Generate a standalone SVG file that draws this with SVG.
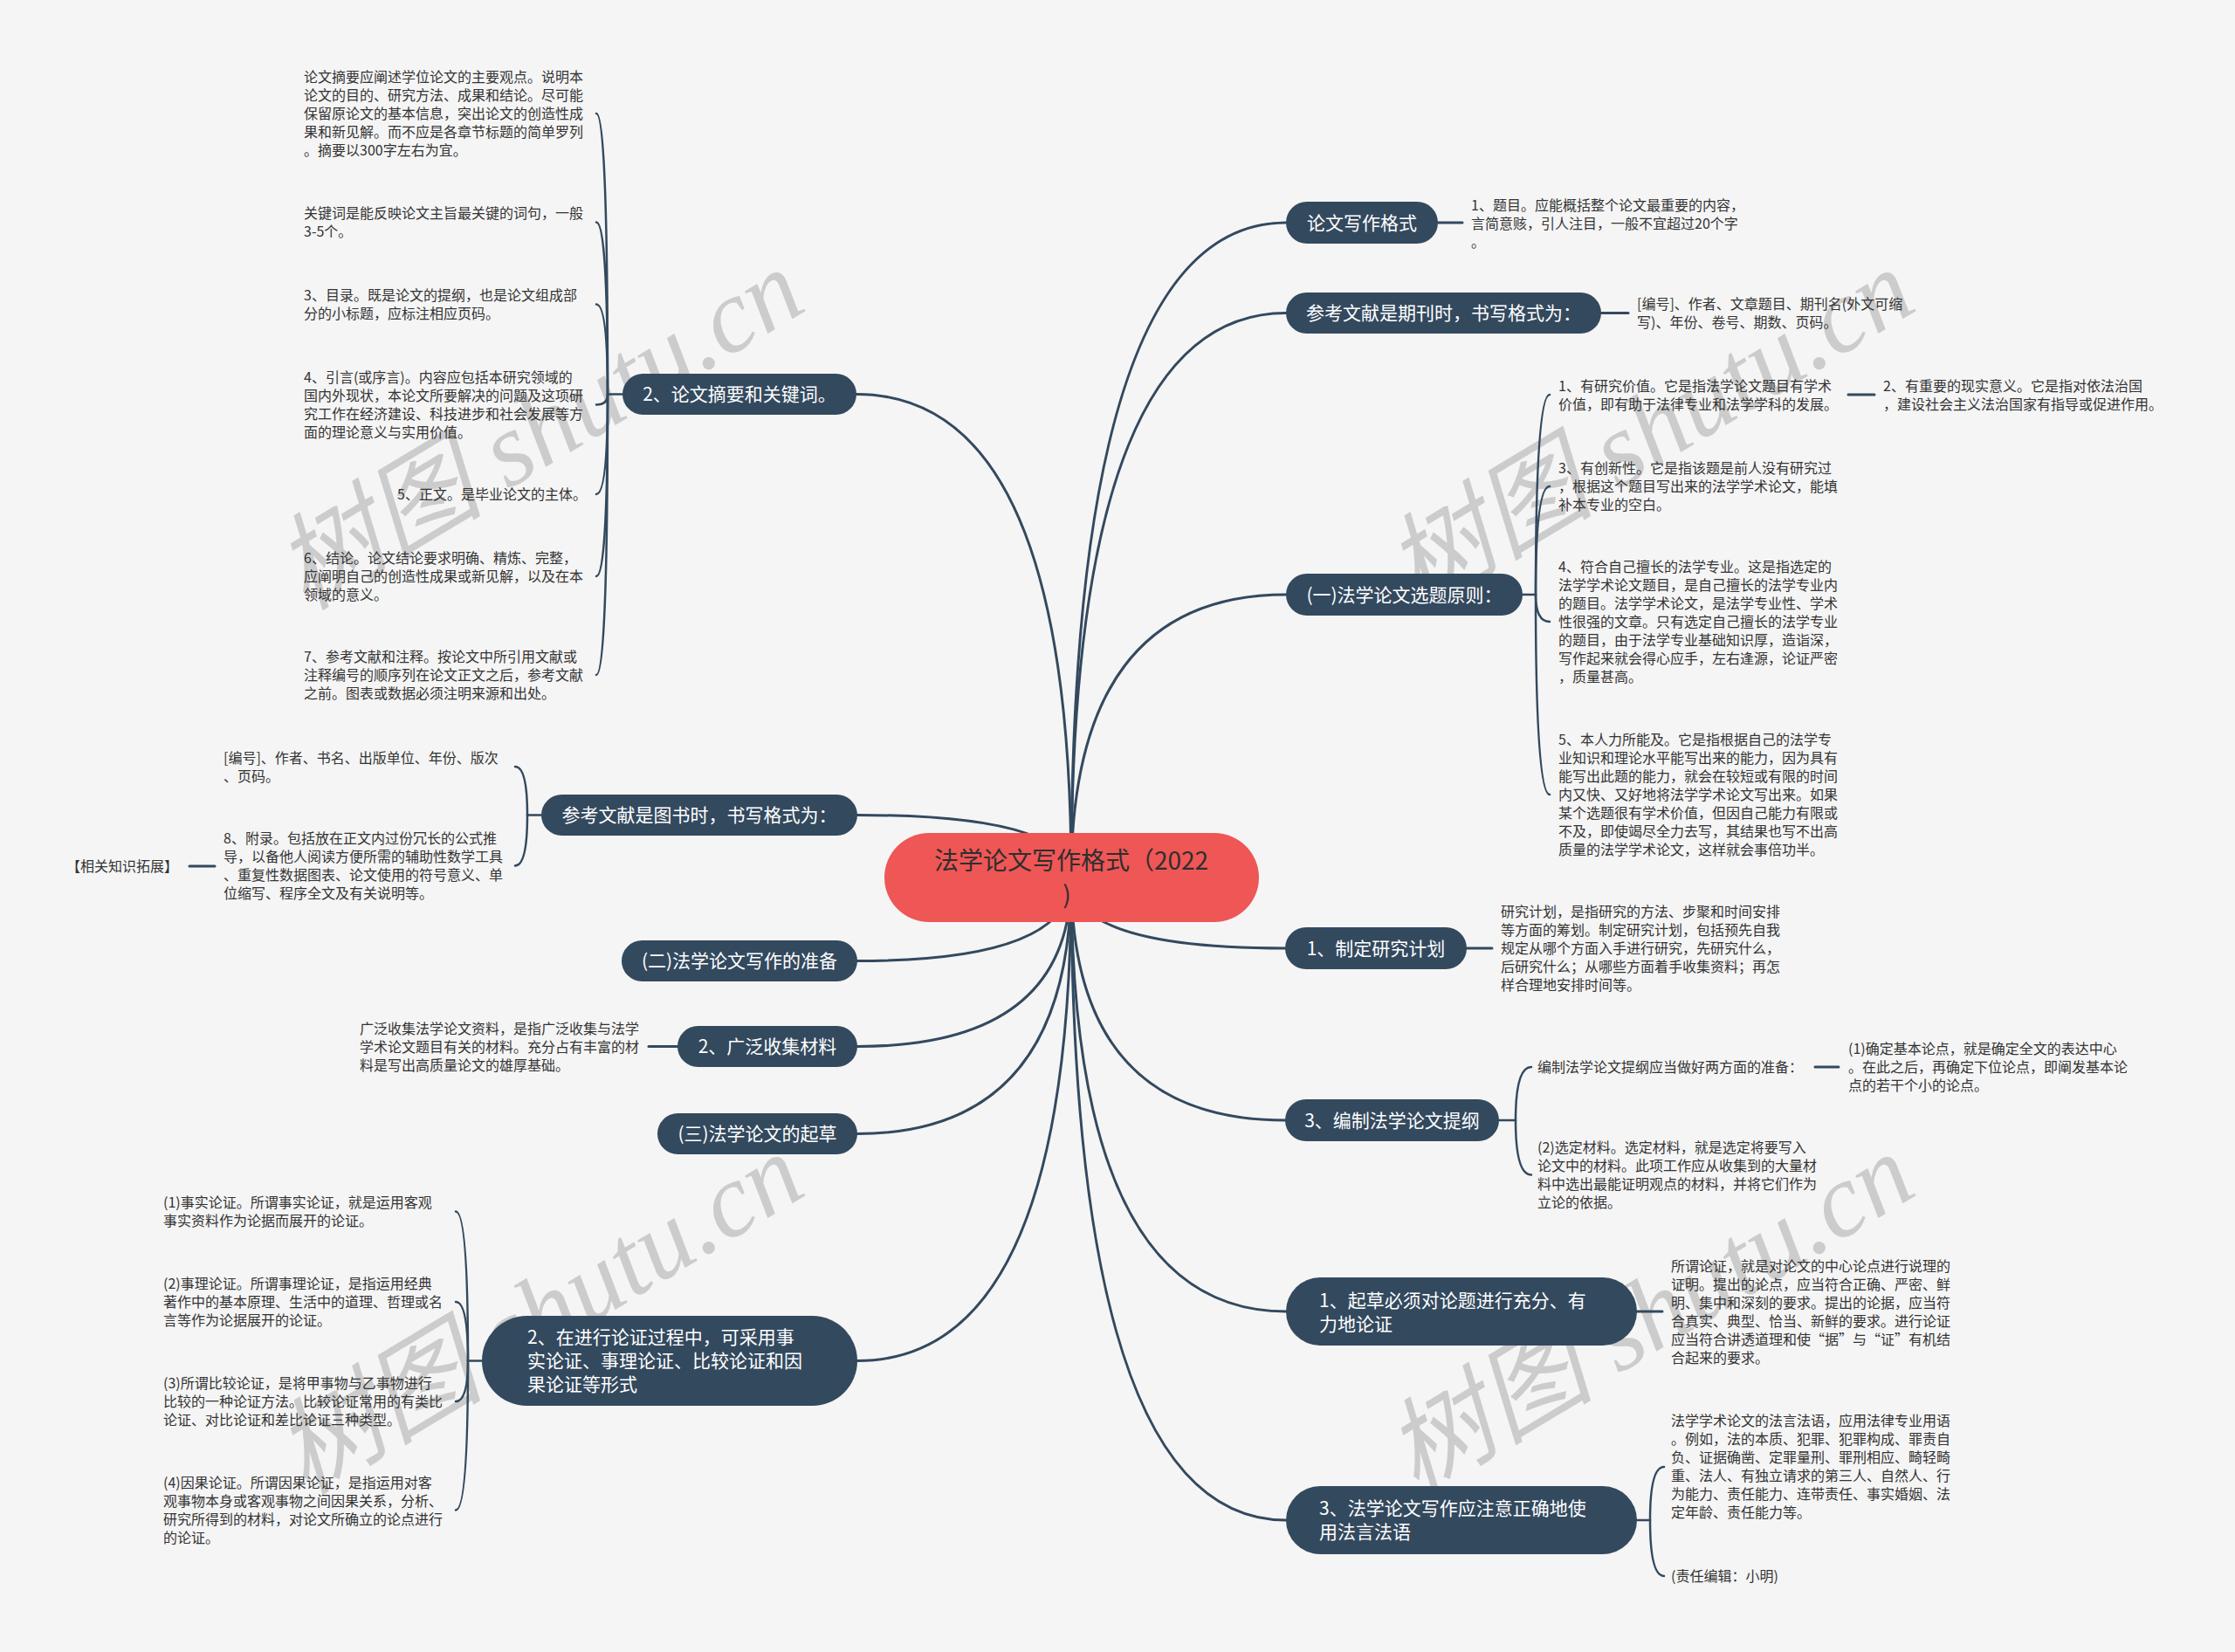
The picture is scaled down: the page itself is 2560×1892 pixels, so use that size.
<svg xmlns="http://www.w3.org/2000/svg" width="2560" height="1892" viewBox="0 0 2560 1892">
<style>
.bg{fill:#f5f5f5}
.wm{fill:#cccccc;font-family:"Liberation Serif","Noto Sans CJK SC",serif;font-style:italic;font-size:120px}
.ln{fill:none;stroke:#33495e;stroke-width:3;stroke-linecap:round}
.br{fill:none;stroke:#33495e;stroke-width:2.5;stroke-linecap:round}
.nd{fill:#33495e}
.nt{fill:#ffffff;font-family:"Noto Sans CJK SC","Noto Sans",sans-serif;font-size:21px}
.mid{text-anchor:middle}
.lf{fill:#333333;font-family:"Noto Sans CJK SC","Noto Sans",sans-serif;font-size:16px}
.ct{fill:#2e2e2e;font-family:"Noto Sans CJK SC","Noto Sans",sans-serif;font-size:28px;text-anchor:middle}
</style>
<rect class="bg" x="0" y="0" width="2560" height="1892"/>
<g id="watermarks">
<text class="wm" transform="translate(350,700) rotate(-31)">树图 shutu.cn</text>
<text class="wm" transform="translate(1622,700) rotate(-31)">树图 shutu.cn</text>
<text class="wm" transform="translate(350,1713) rotate(-31)">树图 shutu.cn</text>
<text class="wm" transform="translate(1622,1713) rotate(-31)">树图 shutu.cn</text>
</g>
<g id="connectors">
<path class="ln" d="M1227 1005 Q1227 255 1473 255"/>
<path class="ln" d="M1227 1005 Q1227 358.5 1473 358.5"/>
<path class="ln" d="M1227 1005 Q1227 681 1473 681"/>
<path class="ln" d="M1227 1005 Q1227 1086 1472 1086"/>
<path class="ln" d="M1227 1005 Q1227 1283 1472 1283"/>
<path class="ln" d="M1227 1005 Q1227 1502 1473 1502"/>
<path class="ln" d="M1227 1005 Q1227 1741 1473 1741"/>
<path class="ln" d="M1227 1005 Q1227 451.5 981 451.5"/>
<path class="ln" d="M1227 1005 Q1227 933.5 982 933.5"/>
<path class="ln" d="M1227 1005 Q1227 1100.5 982 1100.5"/>
<path class="ln" d="M1227 1005 Q1227 1198.5 982 1198.5"/>
<path class="ln" d="M1227 1005 Q1227 1298.5 982 1298.5"/>
<path class="ln" d="M1227 1005 Q1227 1558.5 982 1558.5"/>
<path class="ln" d="M1647 255 H1675"/>
<path class="ln" d="M1834 358.5 H1865"/>
<path class="ln" d="M2117 452 H2147"/>
<path class="ln" d="M1680 1086 H1709"/>
<path class="ln" d="M2079 1222 H2106"/>
<path class="ln" d="M1875 1502 H1904"/>
<path class="ln" d="M776 1198.5 H743"/>
<path class="ln" d="M246 992 H217"/>
<path class="br" d="M1744 681 H1759"/>
<path class="br" d="M1759 681 Q1759 452 1775 452"/>
<path class="br" d="M1759 681 Q1759 557 1775 557"/>
<path class="br" d="M1759 681 Q1759 712 1775 712"/>
<path class="br" d="M1759 681 Q1759 910 1775 910"/>
<path class="br" d="M1717 1283 H1736"/>
<path class="br" d="M1736 1283 Q1736 1222 1754 1222"/>
<path class="br" d="M1736 1283 Q1736 1345.5 1754 1345.5"/>
<path class="br" d="M1875 1741 H1890"/>
<path class="br" d="M1890 1741 Q1890 1680 1906 1680"/>
<path class="br" d="M1890 1741 Q1890 1805 1906 1805"/>
<path class="br" d="M713 451.5 H696"/>
<path class="br" d="M696 451.5 Q696 130 683 130"/>
<path class="br" d="M696 451.5 Q696 254.5 683 254.5"/>
<path class="br" d="M696 451.5 Q696 348.5 683 348.5"/>
<path class="br" d="M696 451.5 Q696 463.5 683 463.5"/>
<path class="br" d="M696 451.5 Q696 566 683 566"/>
<path class="br" d="M696 451.5 Q696 660 683 660"/>
<path class="br" d="M696 451.5 Q696 773 683 773"/>
<path class="br" d="M620 933.5 H604"/>
<path class="br" d="M604 933.5 Q604 878 590 878"/>
<path class="br" d="M604 933.5 Q604 991.5 590 991.5"/>
<path class="br" d="M552 1558.5 H536"/>
<path class="br" d="M536 1558.5 Q536 1387.5 522 1387.5"/>
<path class="br" d="M536 1558.5 Q536 1491 522 1491"/>
<path class="br" d="M536 1558.5 Q536 1605 522 1605"/>
<path class="br" d="M536 1558.5 Q536 1729.5 522 1729.5"/>
</g>
<g id="root">
<rect x="1013" y="954" width="429" height="102" rx="51" fill="#ef5656"/>
<text class="ct" x="1227" y="996">法学论文写作格式（2022</text>
<text class="ct" x="1222" y="1035">)</text>
</g>
<g id="n-r1">
<rect class="nd" x="1473" y="231" width="174" height="48" rx="24"/>
<text class="nt mid" x="1560" y="262.5">论文写作格式</text>
</g>
<g id="n-r1-leaf">
<text class="lf" x="1685" y="241">1、题目。应能概括整个论文最重要的内容，</text>
<text class="lf" x="1685" y="262">言简意赅，引人注目，一般不宜超过20个字</text>
<text class="lf" x="1685" y="283">。</text>
</g>
<g id="n-r2">
<rect class="nd" x="1473" y="335" width="361" height="47" rx="23.5"/>
<text class="nt mid" x="1653.5" y="366">参考文献是期刊时，书写格式为：</text>
</g>
<g id="n-r2-leaf">
<text class="lf" x="1875" y="354">[编号]、作者、文章题目、期刊名(外文可缩</text>
<text class="lf" x="1875" y="375">写)、年份、卷号、期数、页码。</text>
</g>
<g id="n-r3">
<rect class="nd" x="1473" y="657" width="271" height="48" rx="24"/>
<text class="nt mid" x="1608.5" y="688.5">(一)法学论文选题原则：</text>
</g>
<g id="n-r3-c1">
<text class="lf" x="1785" y="448">1、有研究价值。它是指法学论文题目有学术</text>
<text class="lf" x="1785" y="469">价值，即有助于法律专业和法学学科的发展。</text>
</g>
<g id="n-r3-c1-c">
<text class="lf" x="2157" y="448">2、有重要的现实意义。它是指对依法治国</text>
<text class="lf" x="2157" y="469">，建设社会主义法治国家有指导或促进作用。</text>
</g>
<g id="n-r3-c3">
<text class="lf" x="1785" y="542">3、有创新性。它是指该题是前人没有研究过</text>
<text class="lf" x="1785" y="563">，根据这个题目写出来的法学学术论文，能填</text>
<text class="lf" x="1785" y="584">补本专业的空白。</text>
</g>
<g id="n-r3-c4">
<text class="lf" x="1785" y="655">4、符合自己擅长的法学专业。这是指选定的</text>
<text class="lf" x="1785" y="676">法学学术论文题目，是自己擅长的法学专业内</text>
<text class="lf" x="1785" y="697">的题目。法学学术论文，是法学专业性、学术</text>
<text class="lf" x="1785" y="718">性很强的文章。只有选定自己擅长的法学专业</text>
<text class="lf" x="1785" y="739">的题目，由于法学专业基础知识厚，造诣深，</text>
<text class="lf" x="1785" y="760">写作起来就会得心应手，左右逢源，论证严密</text>
<text class="lf" x="1785" y="781">，质量甚高。</text>
</g>
<g id="n-r3-c5">
<text class="lf" x="1785" y="853">5、本人力所能及。它是指根据自己的法学专</text>
<text class="lf" x="1785" y="874">业知识和理论水平能写出来的能力，因为具有</text>
<text class="lf" x="1785" y="895">能写出此题的能力，就会在较短或有限的时间</text>
<text class="lf" x="1785" y="916">内又快、又好地将法学学术论文写出来。如果</text>
<text class="lf" x="1785" y="937">某个选题很有学术价值，但因自己能力有限或</text>
<text class="lf" x="1785" y="958">不及，即使竭尽全力去写，其结果也写不出高</text>
<text class="lf" x="1785" y="979">质量的法学学术论文，这样就会事倍功半。</text>
</g>
<g id="n-r4">
<rect class="nd" x="1472" y="1062" width="208" height="48" rx="24"/>
<text class="nt mid" x="1576" y="1093.5">1、制定研究计划</text>
</g>
<g id="n-r4-leaf">
<text class="lf" x="1719" y="1050">研究计划，是指研究的方法、步聚和时间安排</text>
<text class="lf" x="1719" y="1071">等方面的筹划。制定研究计划，包括预先自我</text>
<text class="lf" x="1719" y="1092">规定从哪个方面入手进行研究，先研究什么，</text>
<text class="lf" x="1719" y="1113">后研究什么；从哪些方面着手收集资料；再怎</text>
<text class="lf" x="1719" y="1134">样合理地安排时间等。</text>
</g>
<g id="n-r5">
<rect class="nd" x="1472" y="1259" width="245" height="48" rx="24"/>
<text class="nt mid" x="1594.5" y="1290.5">3、编制法学论文提纲</text>
</g>
<g id="n-r5-c1">
<text class="lf" x="1761" y="1228">编制法学论文提纲应当做好两方面的准备：</text>
</g>
<g id="n-r5-c1-c">
<text class="lf" x="2117" y="1207">(1)确定基本论点，就是确定全文的表达中心</text>
<text class="lf" x="2117" y="1228">。在此之后，再确定下位论点，即阐发基本论</text>
<text class="lf" x="2117" y="1249">点的若干个小的论点。</text>
</g>
<g id="n-r5-c2">
<text class="lf" x="1761" y="1320">(2)选定材料。选定材料，就是选定将要写入</text>
<text class="lf" x="1761" y="1341">论文中的材料。此项工作应从收集到的大量材</text>
<text class="lf" x="1761" y="1362">料中选出最能证明观点的材料，并将它们作为</text>
<text class="lf" x="1761" y="1383">立论的依据。</text>
</g>
<g id="n-r6">
<rect class="nd" x="1473" y="1463" width="402" height="78" rx="39"/>
<text class="nt" x="1511" y="1497">1、起草必须对论题进行充分、有</text>
<text class="nt" x="1511" y="1524">力地论证</text>
</g>
<g id="n-r6-leaf">
<text class="lf" x="1914" y="1456">所谓论证，就是对论文的中心论点进行说理的</text>
<text class="lf" x="1914" y="1477">证明。提出的论点，应当符合正确、严密、鲜</text>
<text class="lf" x="1914" y="1498">明、集中和深刻的要求。提出的论据，应当符</text>
<text class="lf" x="1914" y="1519">合真实、典型、恰当、新鲜的要求。进行论证</text>
<text class="lf" x="1914" y="1540">应当符合讲透道理和使“据”与“证”有机结</text>
<text class="lf" x="1914" y="1561">合起来的要求。</text>
</g>
<g id="n-r7">
<rect class="nd" x="1473" y="1702" width="402" height="78" rx="39"/>
<text class="nt" x="1511" y="1735">3、法学论文写作应注意正确地使</text>
<text class="nt" x="1511" y="1762">用法言法语</text>
</g>
<g id="n-r7-c1">
<text class="lf" x="1914" y="1633">法学学术论文的法言法语，应用法律专业用语</text>
<text class="lf" x="1914" y="1654">。例如，法的本质、犯罪、犯罪构成、罪责自</text>
<text class="lf" x="1914" y="1675">负、证据确凿、定罪量刑、罪刑相应、畸轻畸</text>
<text class="lf" x="1914" y="1696">重、法人、有独立请求的第三人、自然人、行</text>
<text class="lf" x="1914" y="1717">为能力、责任能力、连带责任、事实婚姻、法</text>
<text class="lf" x="1914" y="1738">定年龄、责任能力等。</text>
</g>
<g id="n-r7-c2">
<text class="lf" x="1914" y="1811">(责任编辑：小明)</text>
</g>
<g id="n-l1">
<rect class="nd" x="713" y="428" width="268" height="47" rx="23.5"/>
<text class="nt mid" x="847" y="459">2、论文摘要和关键词。</text>
</g>
<g id="n-l1-c1">
<text class="lf" x="348" y="94">论文摘要应阐述学位论文的主要观点。说明本</text>
<text class="lf" x="348" y="115">论文的目的、研究方法、成果和结论。尽可能</text>
<text class="lf" x="348" y="136">保留原论文的基本信息，突出论文的创造性成</text>
<text class="lf" x="348" y="157">果和新见解。而不应是各章节标题的简单罗列</text>
<text class="lf" x="348" y="178">。摘要以300字左右为宜。</text>
</g>
<g id="n-l1-c2">
<text class="lf" x="348" y="250">关键词是能反映论文主旨最关键的词句，一般</text>
<text class="lf" x="348" y="271">3-5个。</text>
</g>
<g id="n-l1-c3">
<text class="lf" x="348" y="344">3、目录。既是论文的提纲，也是论文组成部</text>
<text class="lf" x="348" y="365">分的小标题，应标注相应页码。</text>
</g>
<g id="n-l1-c4">
<text class="lf" x="348" y="438">4、引言(或序言)。内容应包括本研究领域的</text>
<text class="lf" x="348" y="459">国内外现状，本论文所要解决的问题及这项研</text>
<text class="lf" x="348" y="480">究工作在经济建设、科技进步和社会发展等方</text>
<text class="lf" x="348" y="501">面的理论意义与实用价值。</text>
</g>
<g id="n-l1-c5">
<text class="lf" x="455" y="572">5、正文。是毕业论文的主体。</text>
</g>
<g id="n-l1-c6">
<text class="lf" x="348" y="645">6、结论。论文结论要求明确、精炼、完整，</text>
<text class="lf" x="348" y="666">应阐明自己的创造性成果或新见解，以及在本</text>
<text class="lf" x="348" y="687">领域的意义。</text>
</g>
<g id="n-l1-c7">
<text class="lf" x="348" y="758">7、参考文献和注释。按论文中所引用文献或</text>
<text class="lf" x="348" y="779">注释编号的顺序列在论文正文之后，参考文献</text>
<text class="lf" x="348" y="800">之前。图表或数据必须注明来源和出处。</text>
</g>
<g id="n-l2">
<rect class="nd" x="620" y="910" width="362" height="47" rx="23.5"/>
<text class="nt mid" x="801" y="941">参考文献是图书时，书写格式为：</text>
</g>
<g id="n-l2-c1">
<text class="lf" x="256" y="874">[编号]、作者、书名、出版单位、年份、版次</text>
<text class="lf" x="256" y="895">、页码。</text>
</g>
<g id="n-l2-c2">
<text class="lf" x="256" y="966">8、附录。包括放在正文内过份冗长的公式推</text>
<text class="lf" x="256" y="987">导，以备他人阅读方便所需的辅助性数学工具</text>
<text class="lf" x="256" y="1008">、重复性数据图表、论文使用的符号意义、单</text>
<text class="lf" x="256" y="1029">位缩写、程序全文及有关说明等。</text>
</g>
<g id="n-l2-c2-c">
<text class="lf" x="76" y="998">【相关知识拓展】</text>
</g>
<g id="n-l3">
<rect class="nd" x="712" y="1077" width="270" height="47" rx="23.5"/>
<text class="nt mid" x="847" y="1108">(二)法学论文写作的准备</text>
</g>
<g id="n-l4">
<rect class="nd" x="776" y="1175" width="206" height="47" rx="23.5"/>
<text class="nt mid" x="879" y="1206">2、广泛收集材料</text>
</g>
<g id="n-l4-leaf">
<text class="lf" x="412" y="1184">广泛收集法学论文资料，是指广泛收集与法学</text>
<text class="lf" x="412" y="1205">学术论文题目有关的材料。充分占有丰富的材</text>
<text class="lf" x="412" y="1226">料是写出高质量论文的雄厚基础。</text>
</g>
<g id="n-l5">
<rect class="nd" x="753" y="1275" width="229" height="47" rx="23.5"/>
<text class="nt mid" x="867.5" y="1306">(三)法学论文的起草</text>
</g>
<g id="n-l6">
<rect class="nd" x="552" y="1507" width="430" height="103" rx="51.5"/>
<text class="nt" x="604" y="1538.5">2、在进行论证过程中，可采用事</text>
<text class="nt" x="604" y="1565.5">实论证、事理论证、比较论证和因</text>
<text class="nt" x="604" y="1592.5">果论证等形式</text>
</g>
<g id="n-l6-c1">
<text class="lf" x="187" y="1383">(1)事实论证。所谓事实论证，就是运用客观</text>
<text class="lf" x="187" y="1404">事实资料作为论据而展开的论证。</text>
</g>
<g id="n-l6-c2">
<text class="lf" x="187" y="1476">(2)事理论证。所谓事理论证，是指运用经典</text>
<text class="lf" x="187" y="1497">著作中的基本原理、生活中的道理、哲理或名</text>
<text class="lf" x="187" y="1518">言等作为论据展开的论证。</text>
</g>
<g id="n-l6-c3">
<text class="lf" x="187" y="1590">(3)所谓比较论证，是将甲事物与乙事物进行</text>
<text class="lf" x="187" y="1611">比较的一种论证方法。比较论证常用的有类比</text>
<text class="lf" x="187" y="1632">论证、对比论证和差比论证三种类型。</text>
</g>
<g id="n-l6-c4">
<text class="lf" x="187" y="1704">(4)因果论证。所谓因果论证，是指运用对客</text>
<text class="lf" x="187" y="1725">观事物本身或客观事物之间因果关系，分析、</text>
<text class="lf" x="187" y="1746">研究所得到的材料，对论文所确立的论点进行</text>
<text class="lf" x="187" y="1767">的论证。</text>
</g>
</svg>
